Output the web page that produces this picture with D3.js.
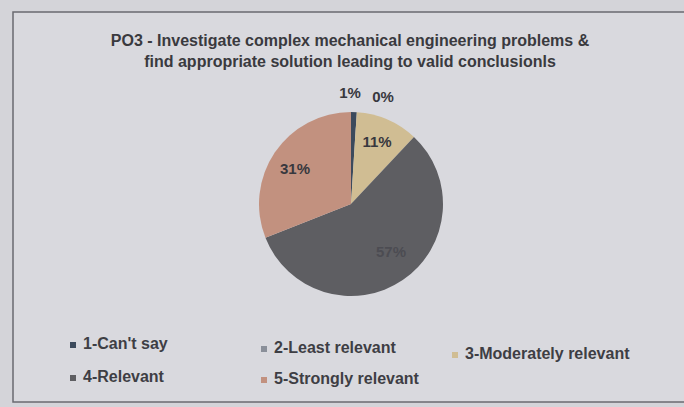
<!DOCTYPE html>
<html><head><meta charset="utf-8">
<script src="https://cdn.jsdelivr.net/npm/d3@7"></script>
<style>body{margin:0;background:#d6d6da;}svg{display:block;}</style>
</head><body>
<svg id="c" width="684" height="407"></svg>
<script>
const categories = ["1-Can't say","2-Least relevant","3-Moderately relevant","4-Relevant","5-Strongly relevant"];
const values = [1, 0, 11, 57, 31];
const colors = ["#3c4a5c","#8a8f99","#d0bd93","#5e5e62","#c2917f"];
const titleLines = ["PO3 - Investigate complex mechanical engineering problems &","find appropriate solution leading to valid conclusionls"];

const svg = d3.select("#c");
svg.append("rect").attr("width",684).attr("height",407).attr("fill","#d4d4d9");
svg.append("rect").attr("x",13).attr("y",12).attr("width",700).attr("height",390)
  .attr("fill","#d9d9de").attr("stroke","#6a6a70").attr("stroke-width",1.5);

const tf = "Liberation Sans, Arial, sans-serif";
svg.selectAll("text.title").data(titleLines).enter().append("text")
  .attr("x",350).attr("y",(d,i)=>46+i*21).attr("text-anchor","middle")
  .attr("font-family",tf).attr("font-size",16).attr("font-weight","bold")
  .attr("fill","#3a3a3e").text(d=>d);

const cx=351, cy=204, r=92;
const pie = d3.pie().sort(null).value(d=>d);
const arcs = pie(values);
const arc = d3.arc().innerRadius(0).outerRadius(r);
const g = svg.append("g").attr("transform",`translate(${cx},${cy})`);
g.selectAll("path").data(arcs).enter().append("path")
  .attr("d",arc).attr("fill",(d,i)=>colors[i]).attr("stroke","none");

// labels
const labelPos = [[-1,-110],[32,-106],[26,-61],[40,49],[-56,-34]];
g.selectAll("text.lbl").data(arcs).enter().append("text")
  .attr("x",(d,i)=>labelPos[i][0]).attr("y",(d,i)=>labelPos[i][1])
  .attr("text-anchor","middle").attr("dominant-baseline","middle")
  .attr("font-family",tf).attr("font-size",15).attr("font-weight","bold")
  .attr("fill",(d,i)=> i===3 ? "#4c4c52" : "#38383e")
  .text(d=>d.data+"%");

// legend
const legPos = [[73,345],[264,349],[455,355],[73,378],[264,380]];
const lg = svg.selectAll("g.leg").data(categories).enter().append("g")
  .attr("transform",(d,i)=>`translate(${legPos[i][0]},${legPos[i][1]})`);
lg.append("rect").attr("x",-3).attr("y",-3).attr("width",6).attr("height",6)
  .attr("fill",(d,i)=>colors[i]);
lg.append("text").attr("x",10).attr("y",0).attr("dominant-baseline","middle")
  .attr("font-family",tf).attr("font-size",16).attr("font-weight","bold")
  .attr("fill","#3e3e44").text(d=>d);
</script>
</body></html>
